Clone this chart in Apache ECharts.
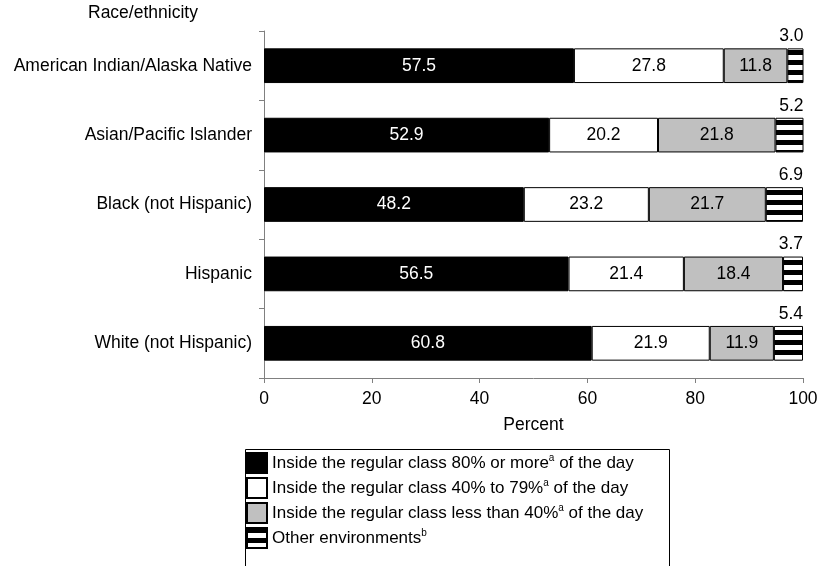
<!DOCTYPE html>
<html><head><meta charset="utf-8">
<script src="https://cdn.jsdelivr.net/npm/echarts@6/dist/echarts.min.js"></script>
<style>html,body{margin:0;padding:0;background:#fff}#c{width:818px;height:566px}</style>
</head><body><div id="c"></div>
<script>
const categories = ['American Indian/Alaska Native','Asian/Pacific Islander','Black (not Hispanic)','Hispanic','White (not Hispanic)'];
const inside80 = [57.5, 52.9, 48.2, 56.5, 60.8];
const inside40to79 = [27.8, 20.2, 23.2, 21.4, 21.9];
const insideLess40 = [11.8, 21.8, 21.7, 18.4, 11.9];
const otherEnv = [3.0, 5.2, 6.9, 3.7, 5.4];
const xTicks = [0, 20, 40, 60, 80, 100];
const seriesNames = ['Inside the regular class 80% or more','Inside the regular class 40% to 79%','Inside the regular class less than 40%','Other environments'];

const FONT = 'Liberation Sans, Arial, sans-serif';
const FS = 17.5;
// stripe pattern
const pc = document.createElement('canvas');
pc.width = 8; pc.height = 10;
const pctx = pc.getContext('2d');
pctx.fillStyle = '#fff'; pctx.fillRect(0,0,8,10);
pctx.fillStyle = '#000'; pctx.fillRect(0,0,8,5);
const stripe = {image: pc, repeat: 'repeat'};

const chart = echarts.init(document.getElementById('c'), null, {renderer:'canvas'});
const fmt = p => p.value.toFixed(1);
const baseLabel = {show:true, position:'inside', fontFamily:FONT, fontSize:FS, formatter: fmt};
const option = {
  animation:false,
  grid:{left:264, right:15, top:31, bottom:188, containLabel:false, outerBoundsMode:'none'},
  xAxis:{type:'value', min:xTicks[0], max:xTicks[xTicks.length-1], interval:xTicks[1]-xTicks[0],
    name:'Percent', nameLocation:'middle', nameGap:38,
    nameTextStyle:{color:'#000', fontFamily:FONT, fontSize:FS},
    axisLine:{show:true, lineStyle:{color:'#808080', width:1}},
    axisTick:{show:true, length:5, lineStyle:{color:'#808080'}},
    axisLabel:{color:'#000', fontFamily:FONT, fontSize:FS, margin:12, hideOverlap:false},
    splitLine:{show:false}},
  yAxis:{type:'category', data:categories, inverse:true,
    axisLine:{show:true, lineStyle:{color:'#808080', width:1}},
    axisTick:{show:true, length:5, inside:false, lineStyle:{color:'#808080'}},
    axisLabel:{color:'#000', fontFamily:FONT, fontSize:FS, margin:12}},
  legend:{orient:'vertical', left:241, top:447, itemWidth:20, itemHeight:20, itemGap:3,
    icon:'rect', selectedMode:false,
    textStyle:{color:'#000', fontFamily:FONT, fontSize:17,
      rich:{t:{fontFamily:FONT, fontSize:17, color:'#000', lineHeight:20},
            s:{fontFamily:FONT, fontSize:10, color:'#000', lineHeight:17, verticalAlign:'top'}}},
    formatter: function(name){
      const i = seriesNames.indexOf(name);
      if (i===0) return '{t|Inside the regular class 80% or more}{s|a}{t| of the day}';
      if (i===1) return '{t|Inside the regular class 40% to 79%}{s|a}{t| of the day}';
      if (i===2) return '{t|Inside the regular class less than 40%}{s|a}{t| of the day}';
      return '{t|Other environments}{s|b}';
    },
    data: seriesNames},
  graphic:[
    {type:'rect', left:243, top:447, shape:{width:424, height:130}, style:{fill:'none', stroke:'#000', lineWidth:1}, z:-1},
    {type:'text', left:88, top:4, style:{text:'Race/ethnicity', fill:'#000', font:FS+'px '+FONT}}
  ],
  series:[
    {name:seriesNames[0], type:'bar', stack:'a', data:inside80, barWidth:'50%',
      itemStyle:{color:'#000', borderColor:'#000', borderWidth:1},
      label:Object.assign({}, baseLabel, {color:'#fff'})},
    {name:seriesNames[1], type:'bar', stack:'a', data:inside40to79,
      itemStyle:{color:'#fff', borderColor:'#000', borderWidth:1},
      label:Object.assign({}, baseLabel, {color:'#000'})},
    {name:seriesNames[2], type:'bar', stack:'a', data:insideLess40,
      itemStyle:{color:'#c0c0c0', borderColor:'#000', borderWidth:1},
      label:Object.assign({}, baseLabel, {color:'#000'})},
    {name:seriesNames[3], type:'bar', stack:'a', data:otherEnv,
      itemStyle:{color:stripe, borderColor:'#000', borderWidth:1},
      label:{show:true, position:['100%', -3], align:'right', verticalAlign:'bottom', color:'#000', fontFamily:FONT, fontSize:FS, formatter:fmt}}
  ]
};
chart.setOption(option);
</script></body></html>
